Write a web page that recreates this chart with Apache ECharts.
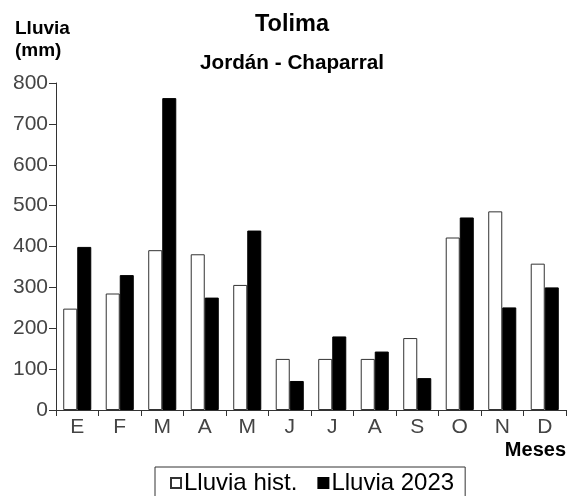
<!DOCTYPE html>
<html>
<head>
<meta charset="utf-8">
<script src="https://cdn.jsdelivr.net/npm/echarts@6/dist/echarts.min.js"></script>
<style>
  html, body { margin: 0; padding: 0; background: #fff; }
  #chart { width: 569px; height: 496px; }
</style>
</head>
<body>
<div id="chart"></div>
<script>
'use strict'
var meses = ['E', 'F', 'M', 'A', 'M', 'J', 'J', 'A', 'S', 'O', 'N', 'D']
var lluviaHist = [248, 285, 391, 381, 306, 125, 125, 125, 176, 422, 486, 358]
var lluvia2023 = [399, 330, 763, 275, 439, 71, 180, 143, 78, 471, 251, 300]
var yTicks = [0, 800, 100] // min, max, interval

var FONT = 'Liberation Sans, Arial, sans-serif'
var chart = echarts.init(document.getElementById('chart'))

var option = {
  backgroundColor: '#fff',
  animation: false,
  title: [
    {
      text: 'Tolima',
      left: 287,
      top: 8,
      textAlign: 'center',
      textStyle: { fontFamily: FONT, fontSize: 23.5, fontWeight: 'bold', color: '#000' }
    },
    {
      text: 'Jordán - Chaparral',
      left: 287,
      top: 48,
      textAlign: 'center',
      textStyle: { fontFamily: FONT, fontSize: 20.7, fontWeight: 'bold', color: '#000' }
    },
    {
      text: 'Lluvia\n(mm)',
      left: 10,
      top: 13,
      textStyle: { fontFamily: FONT, fontSize: 19, fontWeight: 'bold', color: '#000', lineHeight: 22 }
    }
  ],
  legend: {
    left: 155,
    top: 467,
    padding: [4, 11, 5, 15],
    borderColor: '#333',
    borderWidth: 1,
    itemGap: 20,
    itemWidth: 10,
    itemHeight: 10,
    icon: 'rect',
    textStyle: { fontFamily: FONT, fontSize: 24, color: '#000', padding: [0, 0, 0, -2] },
    data: ['Lluvia hist.', 'Lluvia 2023']
  },
  grid: {
    left: 56,
    right: 2,
    top: 83,
    bottom: 86
  },
  xAxis: {
    type: 'category',
    data: meses,
    name: 'Meses',
    nameLocation: 'end',
    nameGap: 0,
    nameTextStyle: {
      fontFamily: FONT, fontSize: 20, fontWeight: 'bold', color: '#000',
      align: 'right', verticalAlign: 'top', padding: [30, 0, 0, 0]
    },
    axisLine: { lineStyle: { color: '#333', width: 1 } },
    axisTick: { show: true, interval: 0, length: 6, lineStyle: { color: '#333' } },
    axisLabel: { fontFamily: FONT, fontSize: 21, color: '#444', margin: 7, interval: 0 }
  },
  yAxis: {
    type: 'value',
    min: yTicks[0],
    max: yTicks[1],
    interval: yTicks[2],
    axisLine: { show: true, lineStyle: { color: '#333', width: 1 } },
    axisTick: { show: true, length: 7, lineStyle: { color: '#333' } },
    axisLabel: { fontFamily: FONT, fontSize: 21, color: '#444', margin: 8 },
    splitLine: { show: false }
  },
  series: [
    {
      name: 'Lluvia hist.',
      type: 'bar',
      data: lluviaHist,
      barGap: '0%',
      barCategoryGap: '34%',
      itemStyle: { color: '#fff', borderColor: '#333', borderWidth: 1 }
    },
    {
      name: 'Lluvia 2023',
      type: 'bar',
      data: lluvia2023,
      itemStyle: { color: '#000', borderColor: '#000', borderWidth: 1 }
    }
  ]
}

chart.setOption(option)
</script>
</body>
</html>
